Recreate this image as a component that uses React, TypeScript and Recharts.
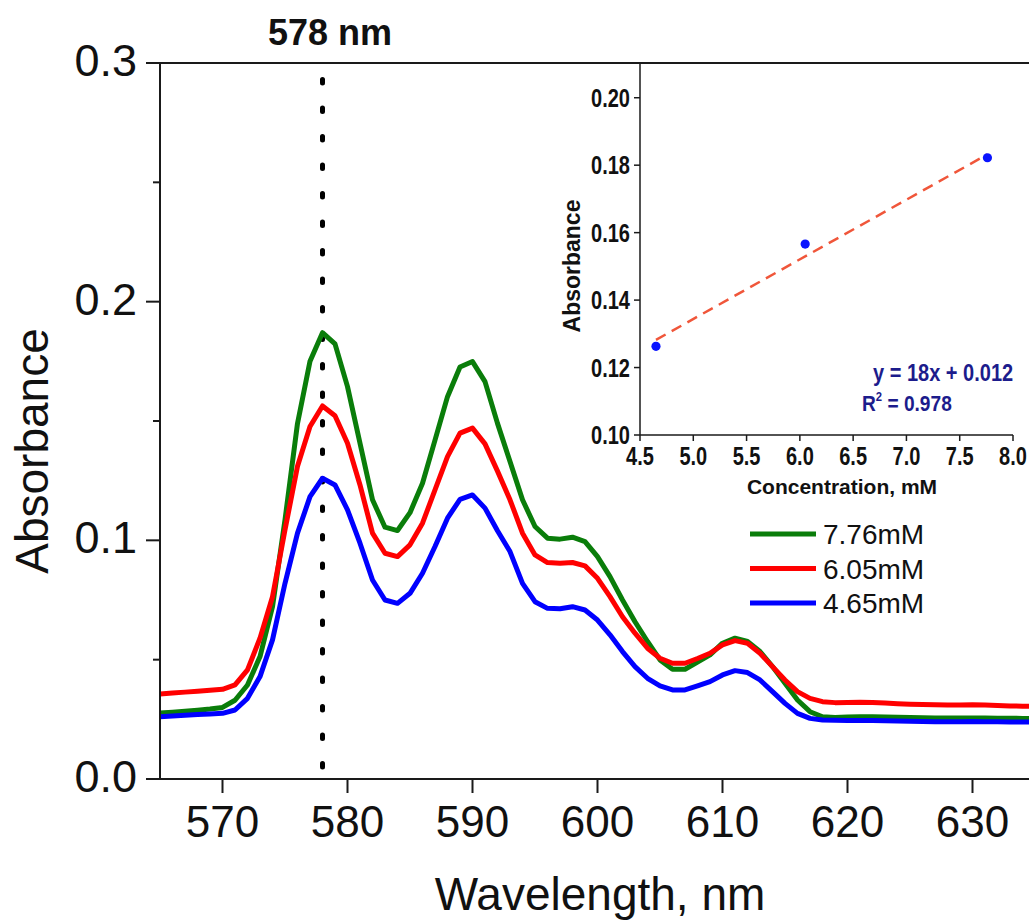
import {
  LineChart,
  Line,
  ComposedChart,
  Scatter,
  XAxis,
  YAxis,
  ReferenceLine,
  Legend,
} from "recharts";

const FONT = "'Liberation Sans', Arial, Helvetica, sans-serif";
const AXIS = "#1a1a1a";
const NAVY = "#1c1c8c";

// wavelength, nm
const WAVELENGTH = [
  565, 566, 567, 568, 569, 570, 571, 572, 573, 574, 575, 576, 577, 578, 579, 580,
  581, 582, 583, 584, 585, 586, 587, 588, 589, 590, 591, 592, 593, 594, 595, 596,
  597, 598, 599, 600, 601, 602, 603, 604, 605, 606, 607, 608, 609, 610, 611, 612,
  613, 614, 615, 616, 617, 618, 619, 620, 621, 622, 623, 624, 625, 626, 627, 628,
  629, 630, 631, 632, 633, 634, 635,
];

const ABS_776 = [
  0.0277, 0.028, 0.0284, 0.0288, 0.0293, 0.03, 0.033, 0.0394, 0.0513, 0.0722, 0.1086, 0.149, 0.175, 0.187, 0.1823, 0.1644,
  0.1407, 0.117, 0.1055, 0.1041, 0.1116, 0.1239, 0.142, 0.1602, 0.1726, 0.1749, 0.1665, 0.149, 0.133, 0.117, 0.1058, 0.1009,
  0.1005, 0.1013, 0.0995, 0.0932, 0.0848, 0.075, 0.0659, 0.0576, 0.0499, 0.046, 0.046, 0.049, 0.052, 0.0569, 0.059, 0.0576,
  0.0534, 0.0471, 0.0401, 0.0331, 0.0282, 0.0261, 0.0258, 0.026, 0.0261, 0.0261, 0.026, 0.0259, 0.0258, 0.0257, 0.0256, 0.0256,
  0.0256, 0.0256, 0.0256, 0.0255, 0.0255, 0.0254, 0.0254,
];

const ABS_605 = [
  0.0356, 0.036, 0.0364, 0.0368, 0.0372, 0.0376, 0.0394, 0.0457, 0.059, 0.0764, 0.1044, 0.131, 0.1477, 0.1563, 0.1522, 0.1407,
  0.1232, 0.103, 0.0946, 0.0932, 0.0981, 0.1072, 0.1211, 0.1351, 0.1449, 0.147, 0.1404, 0.129, 0.117, 0.103, 0.0939, 0.0907,
  0.0904, 0.0907, 0.0893, 0.0841, 0.0764, 0.068, 0.0611, 0.0548, 0.0506, 0.0485, 0.0485, 0.0505, 0.0527, 0.0562, 0.058, 0.0569,
  0.0527, 0.0471, 0.0415, 0.0366, 0.0338, 0.0324, 0.032, 0.0321, 0.0322, 0.0321, 0.0318, 0.0315, 0.0313, 0.0312, 0.0311, 0.031,
  0.031, 0.0311, 0.031, 0.0308, 0.0306, 0.0305, 0.0305,
];

const ABS_465 = [
  0.0261, 0.0264, 0.0267, 0.027, 0.0272, 0.0275, 0.0289, 0.0338, 0.0429, 0.0583, 0.082, 0.103, 0.1183, 0.126, 0.1232, 0.1128,
  0.0988, 0.0834, 0.075, 0.0736, 0.0778, 0.0862, 0.0974, 0.1093, 0.1172, 0.119, 0.1135, 0.104, 0.0953, 0.082, 0.0743, 0.0715,
  0.0713, 0.0722, 0.0708, 0.0666, 0.0604, 0.0534, 0.0471, 0.0422, 0.039, 0.0373, 0.0373, 0.039, 0.0408, 0.0436, 0.0454, 0.0446,
  0.0415, 0.0366, 0.0317, 0.0275, 0.0254, 0.0247, 0.0246, 0.0245, 0.0245, 0.0245, 0.0244, 0.0243, 0.0242, 0.0241, 0.024, 0.024,
  0.024, 0.0241, 0.024, 0.024, 0.0239, 0.0239, 0.0239,
];

const SERIES_NAMES = ["7.76mM", "6.05mM", "4.65mM"];
const X_TICKS = [570, 580, 590, 600, 610, 620, 630];
const Y_TICKS = [0, 0.05, 0.1, 0.15, 0.2, 0.25, 0.3];

// inset: calibration at 578 nm
const CONC = [4.65, 6.05, 7.76];
const ABS_578 = [0.1263, 0.1566, 0.1822];
const FIT_CONC = [4.65, 7.76];
const FIT_ABS = [0.1282, 0.1832];
const INSET_X_TICKS = [4.5, 5.0, 5.5, 6.0, 6.5, 7.0, 7.5, 8.0];
const INSET_Y_TICKS = [0.1, 0.12, 0.14, 0.16, 0.18, 0.2];

const spectra = WAVELENGTH.map((wl, i) => ({
  wl,
  c776: ABS_776[i],
  c605: ABS_605[i],
  c465: ABS_465[i],
}));
const points = CONC.map((c, i) => ({ c, a: ABS_578[i] }));
const fit = FIT_CONC.map((c, i) => ({ c, a: FIT_ABS[i] }));

const MainYTick = ({ x, y, payload }: any) => {
  const major = Math.round(payload.value * 100) % 10 === 0;
  return (
    <g>
      <line x1={x - (major ? 14 : 7)} x2={x} y1={y} y2={y} stroke={AXIS} strokeWidth={2} />
      {major && (
        <text x={x - 23} y={y + 13} textAnchor="end" fontSize={45} fontFamily={FONT} fill="#111">
          {payload.value.toFixed(1)}
        </text>
      )}
    </g>
  );
};

const MainXTick = ({ x, y, payload }: any) => (
  <g>
    <line x1={x} x2={x} y1={y} y2={y + 14} stroke={AXIS} strokeWidth={2} />
    <text x={x} y={y + 58} textAnchor="middle" fontSize={44} fontFamily={FONT} fill="#111">
      {payload.value}
    </text>
  </g>
);

const InsetYTick = ({ x, y, payload }: any) => (
  <g>
    <line x1={x - 6} x2={x} y1={y} y2={y} stroke={AXIS} strokeWidth={1.5} />
    <text
      transform={`translate(${x - 10},${y + 9}) scale(0.8,1)`}
      textAnchor="end"
      fontSize={25}
      fontWeight="bold"
      fontFamily={FONT}
      fill="#111"
    >
      {payload.value.toFixed(2)}
    </text>
  </g>
);

const InsetXTick = ({ x, y, payload }: any) => (
  <g>
    <line x1={x} x2={x} y1={y} y2={y + 6} stroke={AXIS} strokeWidth={1.5} />
    <text
      transform={`translate(${x},${y + 30}) scale(0.8,1)`}
      textAnchor="middle"
      fontSize={25}
      fontWeight="bold"
      fontFamily={FONT}
      fill="#111"
    >
      {payload.value.toFixed(1)}
    </text>
  </g>
);

const LegendBox = ({ payload }: any) => {
  const items = [...(payload || [])].sort(
    (a: any, b: any) => SERIES_NAMES.indexOf(a.value) - SERIES_NAMES.indexOf(b.value)
  );
  return (
    <svg width={200} height={110}>
      {items.map((p: any, i: number) => (
        <g key={p.value}>
          <line x1={5} x2={71} y1={24 + i * 34.5} y2={24 + i * 34.5} stroke={p.color} strokeWidth={5} />
          <text x={78} y={34 + i * 34.5} fontSize={28} fontFamily={FONT} fill="#111">
            {p.value}
          </text>
        </g>
      ))}
    </svg>
  );
};

const Dot = ({ cx, cy }: any) => <circle cx={cx} cy={cy} r={4.6} fill="#0a14ff" />;

export default function App() {
  return (
    <div
      style={{
        position: "absolute",
        left: 0,
        top: 0,
        width: 1029,
        height: 922,
        overflow: "hidden",
        background: "#fff",
        fontFamily: FONT,
      }}
    >
      <div style={{ position: "absolute", left: 0, top: 0 }}>
        <LineChart width={1045} height={922} data={spectra} margin={{ top: 63, right: 10, bottom: 0, left: 0 }}>
          <XAxis
            dataKey="wl"
            type="number"
            domain={[565, 635]}
            ticks={X_TICKS}
            allowDataOverflow
            height={143}
            tickSize={0}
            tickMargin={0}
            tickLine={false}
            axisLine={{ stroke: AXIS, strokeWidth: 2 }}
            tick={(p: any) => <MainXTick {...p} />}
          />
          <YAxis
            type="number"
            domain={[0, 0.3]}
            ticks={Y_TICKS}
            width={160}
            tickSize={0}
            tickMargin={0}
            tickLine={false}
            axisLine={{ stroke: AXIS, strokeWidth: 2 }}
            tick={(p: any) => <MainYTick {...p} />}
          />
          <ReferenceLine y={0.3} stroke={AXIS} strokeWidth={2} />
          <ReferenceLine
            segment={[
              { x: 578, y: 0 },
              { x: 578, y: 0.3 },
            ]}
            stroke="#000"
            strokeWidth={5}
            strokeLinecap="round"
            strokeDasharray="3.5 25"
            strokeDashoffset={-12}
          />
          <Line
            dataKey="c776"
            name={SERIES_NAMES[0]}
            type="linear"
            stroke="#0a7d0a"
            strokeWidth={5}
            strokeLinejoin="round"
            dot={false}
            activeDot={false}
            isAnimationActive={false}
          />
          <Line
            dataKey="c605"
            name={SERIES_NAMES[1]}
            type="linear"
            stroke="#ff0000"
            strokeWidth={5}
            strokeLinejoin="round"
            dot={false}
            activeDot={false}
            isAnimationActive={false}
          />
          <Line
            dataKey="c465"
            name={SERIES_NAMES[2]}
            type="linear"
            stroke="#0000ff"
            strokeWidth={5}
            strokeLinejoin="round"
            dot={false}
            activeDot={false}
            isAnimationActive={false}
          />
          <Legend
            layout="vertical"
            align="center"
            verticalAlign="middle"
            content={(p: any) => <LegendBox {...p} />}
            wrapperStyle={{ left: 745, top: 510, width: 200, height: 110 }}
          />
        </LineChart>
      </div>

      <div style={{ position: "absolute", left: 540, top: 0 }}>
        <ComposedChart width={489} height={500} margin={{ top: 64, right: 16, bottom: 20, left: 0 }}>
          <XAxis
            dataKey="c"
            type="number"
            domain={[4.5, 8.0]}
            ticks={INSET_X_TICKS}
            allowDataOverflow
            height={45}
            tickSize={0}
            tickMargin={0}
            tickLine={false}
            axisLine={{ stroke: AXIS, strokeWidth: 1.5 }}
            tick={(p: any) => <InsetXTick {...p} />}
          />
          <YAxis
            dataKey="a"
            type="number"
            domain={[0.1, 0.21]}
            ticks={INSET_Y_TICKS}
            allowDataOverflow
            width={100}
            tickSize={0}
            tickMargin={0}
            tickLine={false}
            axisLine={{ stroke: AXIS, strokeWidth: 1.5 }}
            tick={(p: any) => <InsetYTick {...p} />}
          />
          <Line
            data={fit}
            dataKey="a"
            type="linear"
            stroke="#f0563a"
            strokeWidth={2.5}
            strokeDasharray="11 7"
            dot={false}
            activeDot={false}
            isAnimationActive={false}
          />
          <Scatter data={points} dataKey="a" shape={(p: any) => <Dot {...p} />} isAnimationActive={false} />
        </ComposedChart>
      </div>

      <svg
        width={1029}
        height={922}
        style={{ position: "absolute", left: 0, top: 0, pointerEvents: "none" }}
        fontFamily={FONT}
      >
        <text x={330} y={45} textAnchor="middle" fontSize={36} fontWeight="bold" fill="#111">
          578 nm
        </text>
        <text transform="translate(48,451) rotate(-90)" textAnchor="middle" fontSize={46} fill="#111">
          Absorbance
        </text>
        <text x={600} y={910} textAnchor="middle" fontSize={46} fill="#111">
          Wavelength, nm
        </text>
        <text transform="translate(580,266) rotate(-90)" textAnchor="middle" fontSize={23} fontWeight="bold" fill="#111">
          Absorbance
        </text>
        <text x={842} y={494} textAnchor="middle" fontSize={21} fontWeight="bold" fill="#111">
          Concentration, mM
        </text>
        <text
          transform="translate(873,381) scale(0.87,1)"
          fontSize={23}
          fontWeight="bold"
          fill={NAVY}
        >
          y = 18x + 0.012
        </text>
        <text transform="translate(862,411) scale(0.87,1)" fontSize={22} fontWeight="bold" fill={NAVY}>
          R
          <tspan fontSize={13} dy={-10}>
            2
          </tspan>
          <tspan dy={10}> = 0.978</tspan>
        </text>
      </svg>
    </div>
  );
}
